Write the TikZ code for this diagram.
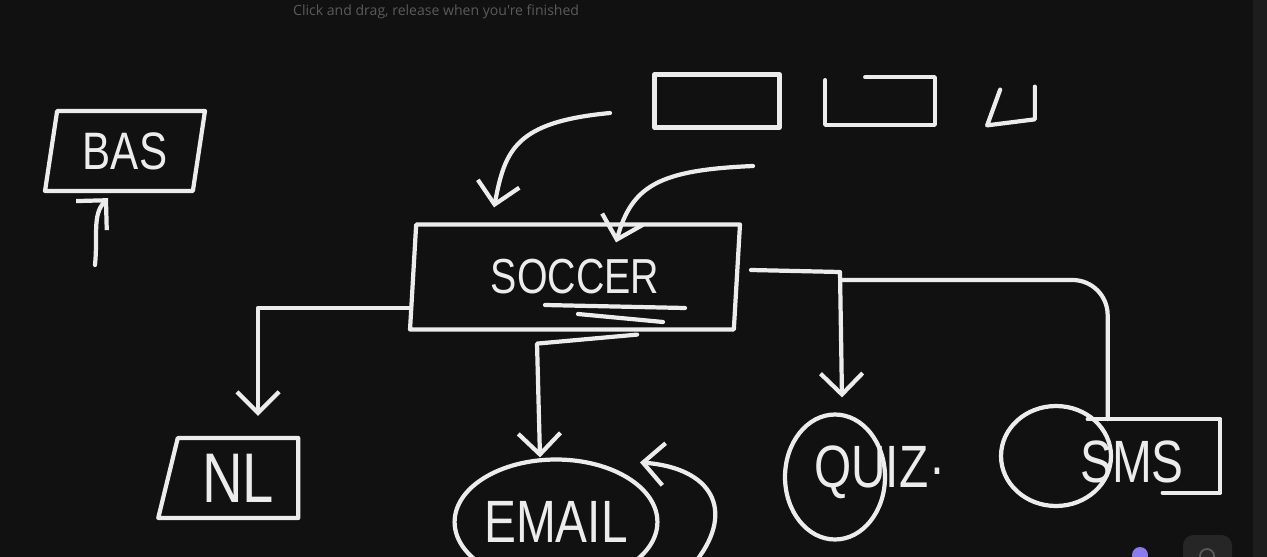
\documentclass[tikz,border=0pt]{standalone}
\usepackage{fontspec}
\setmainfont{Liberation Sans}
\newfontfamily\hand[FakeStretch=0.8]{Liberation Sans}
\newfontfamily\uifont{Open Sans}
\usetikzlibrary{positioning,shapes.geometric,arrows.meta}
\definecolor{board}{HTML}{111111}
\definecolor{chalk}{HTML}{ECECEC}
\definecolor{hint}{HTML}{5A5A5A}
\definecolor{panel}{HTML}{1D1D1D}
\definecolor{knob}{HTML}{262626}
\definecolor{badge}{HTML}{8A7CF0}
\begin{document}
\begin{tikzpicture}[x=0.02cm,y=-0.02cm,
    ink/.style={draw=chalk,line width=2.4pt,line cap=round,line join=round},
    tip/.style={-{Straight Barb[length=12pt,width=24pt]}},
    word/.style={text=chalk,font=\hand\fontsize{#1}{#1}\selectfont},
    slab/.style={ink,trapezium,trapezium stretches body,inner sep=0pt}]
    \useasboundingbox (0,0) rectangle (1267,557);
    \clip (0,0) rectangle (1267,557);
    \fill[board] (0,0) rectangle (1267,557);
    \fill[panel] (1253,0) rectangle (1267,557);
    \node[anchor=west,text=hint,font=\uifont\fontsize{8pt}{8pt}\selectfont] (hinttext) at (287,12) {Click and drag, release when you're finished};

    % boxes
    \node[slab,trapezium left angle=72,trapezium right angle=108,minimum width=3.2cm,minimum height=1.6cm,word=30pt] (bas) at (125,151) {BAS};
    \node[slab,trapezium left angle=80,trapezium right angle=100,minimum width=6.6cm,minimum height=2.1cm,word=28pt] (soccer) at (575,277) {SOCCER};
    \node[slab,trapezium left angle=68,trapezium right angle=90,minimum width=2.8cm,minimum height=1.6cm,word=40pt] (nl) at (238,478) {NL};
    \node[ink,ellipse,inner sep=0pt,minimum width=3cm,minimum height=2.5cm,word=34pt] (email) at (556,522) {EMAIL};
    \node[ink,ellipse,minimum width=2cm,minimum height=2.5cm] (quiz) at (835,477) {};
    \node[word=34pt] (quiztext) at (880,472) {QUIZ\kern1pt·};
    \node[ink,ellipse,minimum width=2.2cm,minimum height=2cm] (smsring) at (1056,456) {};
    \node[minimum width=2.64cm,minimum height=1.46cm] (smsbox) at (1154,456) {};
    \node[word=34pt] (sms) at (1132,462) {SMS};
    \draw[ink] ([xshift=1.5cm]smsbox.south west) -- (smsbox.south east) -- (smsbox.north east) -- (smsbox.north west);
    \draw[ink] (545,305) -- (685,308) (578,314) -- (663,322);

    % empty slots on top
    \node[ink,minimum width=2.5cm,minimum height=1.06cm] (slot1) at (717,101) {};
    \node[minimum width=2.18cm,minimum height=0.94cm] (slot2) at (880,101) {};
    \node[minimum width=0.94cm,minimum height=0.76cm] (slot3) at (1011,106) {};
    \draw[ink] ([xshift=0.8cm]slot2.north west) -- (slot2.north east) -- (slot2.south east) -- (slot2.south west) -- ([yshift=-0.06cm]slot2.north west);
    \draw[ink] ([xshift=0.26cm,yshift=-0.06cm]slot3.north west) -- (slot3.south west) -- ([yshift=0.12cm]slot3.south east) -- (slot3.north east);

    % connectors
    \coordinate (feedA) at (610,113);
    \coordinate (feedB) at (753,166);
    \coordinate (basfeed) at (95,265);
    \coordinate (fork) at (840,272);
    \coordinate (loopend) at (697,560);
    \draw[ink,tip] (basfeed) .. controls (98,235) and (92,215) .. ([xshift=-0.34cm,yshift=-0.1cm]bas.south);
    \draw[ink,tip] (feedA) .. controls (515,122) and (505,150) .. ([xshift=-1.62cm,yshift=0.3cm]soccer.north);
    \draw[ink,tip] (feedB) .. controls (660,170) and (632,185) .. ([xshift=0.82cm,yshift=-0.4cm]soccer.north);
    \draw[ink,tip] ([yshift=-0.62cm]soccer.west) -| ([xshift=0.4cm,yshift=0.4cm]nl.north);
    \draw[ink,tip] ([xshift=1.24cm,yshift=-0.06cm]soccer.south) -- ([xshift=-0.76cm,yshift=-0.24cm]soccer.south) -- ([xshift=-0.32cm]email.north);
    \draw[ink,tip] (loopend) .. controls (735,510) and (712,468) .. ([xshift=1.68cm,yshift=-0.1cm]email.north);
    \draw[ink,tip] ([xshift=0.24cm,yshift=0.14cm]soccer.east) -- (fork) -- ([xshift=0.14cm,yshift=0.3cm]quiz.north);
    \draw[ink,rounded corners=20pt] ([yshift=-0.16cm]fork) -| ([xshift=0.4cm]smsbox.north west);

    % toolbar bits
    \fill[badge] (1140,555) circle (8);
    \fill[knob,rounded corners=6pt] (1183,535) rectangle (1232,575);
    \draw[hint,line width=1pt] (1207,556) circle (7);
\end{tikzpicture}
\end{document}
